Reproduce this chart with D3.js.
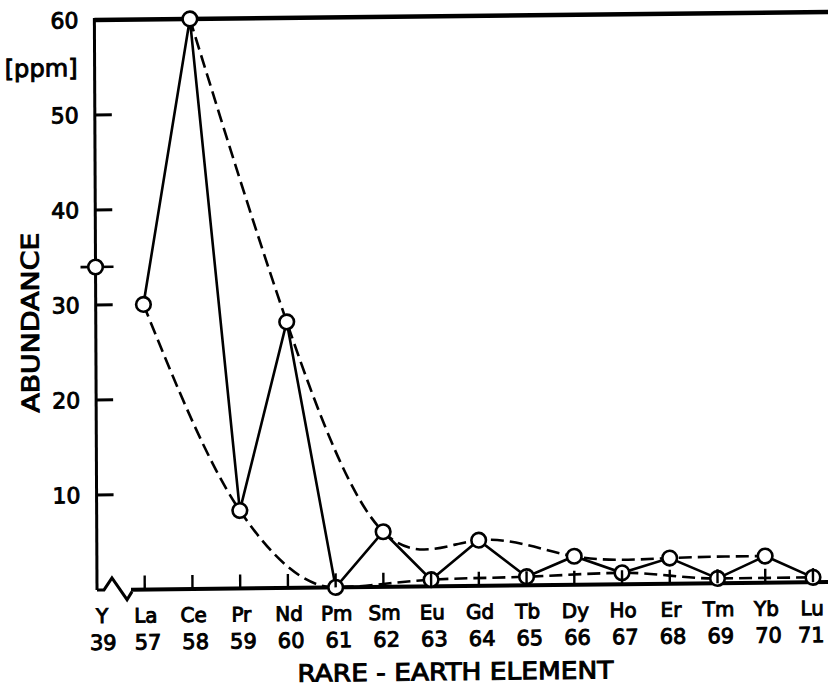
<!DOCTYPE html>
<html><head><meta charset="utf-8">
<script src="https://cdn.jsdelivr.net/npm/d3@7/dist/d3.min.js"></script>
<style>html,body{margin:0;padding:0;background:#fff;}svg{display:block;}</style>
</head><body>
<script>
// ---- data ----
const elements = ["Y","La","Ce","Pr","Nd","Pm","Sm","Eu","Gd","Tb","Dy","Ho","Er","Tm","Yb","Lu"];
const atomicNumbers = ["39","57","58","59","60","61","62","63","64","65","66","67","68","69","70","71"];
const abundance = [34, 30, 60, 8.2, 28, 0, 5.8, 0.7, 4.8, 0.9, 3.0, 1.2, 2.7, 0.5, 2.8, 0.5];
const solidSeries = ["La","Ce","Pr","Nd","Pm","Sm","Eu","Gd","Tb","Dy","Ho","Er","Tm","Yb","Lu"];
const evenEnvelope = ["Ce","Nd","Sm","Gd","Dy","Er","Yb"];
const oddEnvelope = ["La","Pr","Pm","Eu","Tb","Ho","Tm","Lu"];
const yTicks = [10, 20, 30, 40, 50];
const yTickLabels = ["10","20","30","40","50","60"];
const yTickLabelValues = [10, 20, 30, 40, 50, 60];
const yUnit = "[ppm]";
const yTitle = "ABUNDANCE";
const xTitle = "RARE - EARTH ELEMENT";

const W = 828, H = 690;
const val = {};
elements.forEach((e, i) => val[e] = abundance[i]);

const svg = d3.select("body").append("svg").attr("width", W).attr("height", H);
// slight skew to follow the scanned original
const g = svg.append("g").attr("transform", "matrix(1,-0.011,0.0046,1,-2.71,1.067)");

const x = d3.scalePoint().domain(elements).range([97, 813]);
const y = d3.scaleLinear().domain([0, 60]).range([590, 20]);

const FONT = "DejaVu Sans";
const TS = 0.95; // text stroke for heavier lettering
const last = elements.length - 1;

// frame: top line, y axis, baseline with break
g.append("line").attr("x1", x("Y")).attr("x2", W + 10).attr("y1", y(60)).attr("y2", y(60))
  .attr("stroke", "#000").attr("stroke-width", 4.5);
g.append("line").attr("x1", x("Y")).attr("x2", x("Y")).attr("y1", y(60) - 2).attr("y2", y(0))
  .attr("stroke", "#000").attr("stroke-width", 3);
const x0 = x("Y"), y0 = y(0);
g.append("path")
  .attr("d", `M${x0},${y0} L${x0 + 7},${y0} L${x0 + 15},${y0 - 12} L${x0 + 30},${y0 + 10} L${x0 + 35},${y0 + 2}`)
  .attr("fill", "none").attr("stroke", "#000").attr("stroke-width", 3).attr("stroke-linejoin", "miter");
g.append("line").attr("x1", x0 + 34).attr("x2", W + 10).attr("y1", y0).attr("y2", y0)
  .attr("stroke", "#000").attr("stroke-width", 4);

// y ticks
g.selectAll(".ytick").data(yTicks).join("line")
  .attr("x1", x0).attr("x2", x0 + 17).attr("y1", d => y(d)).attr("y2", d => y(d))
  .attr("stroke", "#000").attr("stroke-width", 3);
g.selectAll(".ylab").data(yTickLabelValues).join("text")
  .attr("x", 81).attr("y", d => y(d) + 8)
  .attr("text-anchor", "end").attr("font-family", FONT).attr("font-size", 22)
  .attr("stroke", "#000").attr("stroke-width", TS)
  .text((d, i) => yTickLabels[i]);
g.append("text").attr("x", 7).attr("y", 76).attr("font-family", FONT).attr("font-size", 24)
  .attr("stroke", "#000").attr("stroke-width", TS)
  .attr("textLength", 73).attr("lengthAdjust", "spacingAndGlyphs").text(yUnit);

// axis titles
g.append("text").attr("transform", "translate(40,322) rotate(-90)")
  .attr("text-anchor", "middle").attr("font-family", FONT).attr("font-size", 24)
  .attr("stroke", "#000").attr("stroke-width", 1.0)
  .attr("textLength", 180).attr("lengthAdjust", "spacingAndGlyphs").text(yTitle);
g.append("text").attr("x", 297).attr("y", 684)
  .attr("font-family", FONT).attr("font-size", 24)
  .attr("stroke", "#000").attr("stroke-width", 1.0)
  .attr("textLength", 316).attr("lengthAdjust", "spacingAndGlyphs").text(xTitle);

// element labels
g.selectAll(".el").data(elements).join("text")
  .attr("x", (d, i) => x(d) + (i === 0 ? 5 : (i === last ? -1 : 1))).attr("y", 623)
  .attr("text-anchor", "middle").attr("font-family", FONT).attr("font-size", 20)
  .attr("stroke", "#000").attr("stroke-width", TS)
  .text(d => d);
g.selectAll(".an").data(atomicNumbers).join("text")
  .attr("x", (d, i) => x(elements[i]) + (i === 0 ? 6 : (i === last ? -2 : 3))).attr("y", 650)
  .attr("text-anchor", "middle").attr("font-family", FONT).attr("font-size", 21)
  .attr("stroke", "#000").attr("stroke-width", TS)
  .text(d => d);

// dashed envelopes
const upper = d3.line().x(d => x(d)).y(d => y(val[d])).curve(d3.curveNatural);
const lower = d3.line().x(d => x(d)).y(d => y(val[d])).curve(d3.curveMonotoneX);
g.append("path").attr("d", upper(evenEnvelope)).attr("fill", "none")
  .attr("stroke", "#000").attr("stroke-width", 2.6).attr("stroke-dasharray", "13,6");
g.append("path").attr("d", lower(oddEnvelope)).attr("fill", "none")
  .attr("stroke", "#000").attr("stroke-width", 2.6).attr("stroke-dasharray", "13,6");

// solid zig-zag
const solid = d3.line().x(d => x(d)).y(d => y(val[d]));
g.append("path").attr("d", solid(solidSeries)).attr("fill", "none")
  .attr("stroke", "#000").attr("stroke-width", 2.6).attr("stroke-linejoin", "miter");

// Y marker dash
g.append("line").attr("x1", x("Y") - 15).attr("x2", x("Y") + 18)
  .attr("y1", y(val["Y"])).attr("y2", y(val["Y"])).attr("stroke", "#000").attr("stroke-width", 2.6);

// circles
g.selectAll(".pt").data(elements).join("circle")
  .attr("cx", d => x(d)).attr("cy", d => y(val[d])).attr("r", 7.3)
  .attr("fill", "#fff").attr("stroke", "#000").attr("stroke-width", 2.6);

// x ticks (drawn over circles near baseline)
g.selectAll(".xt").data(elements.slice(1)).join("line")
  .attr("x1", d => x(d)).attr("x2", d => x(d)).attr("y1", y0).attr("y2", y0 - 14)
  .attr("stroke", "#000").attr("stroke-width", 2.4);
</script>
</body></html>
